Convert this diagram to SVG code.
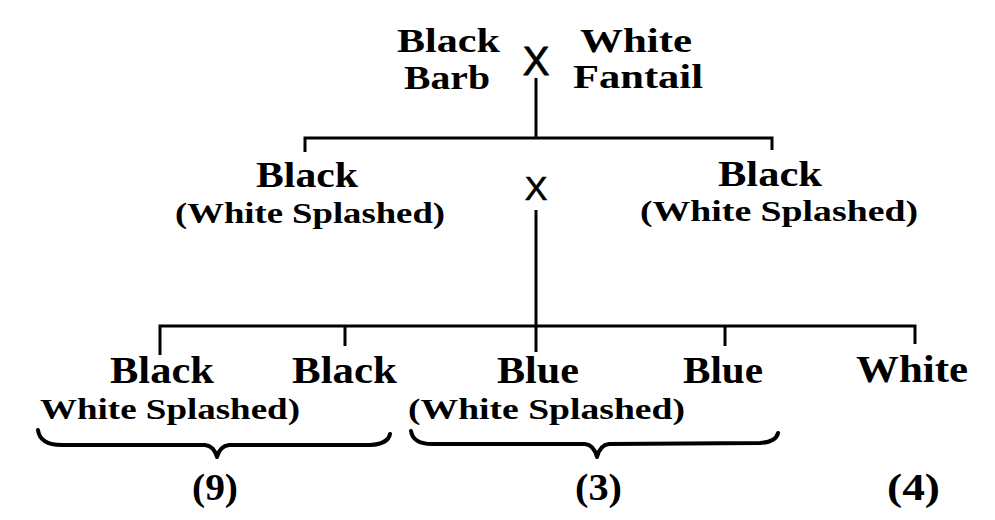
<svg xmlns="http://www.w3.org/2000/svg" width="995" height="520" viewBox="0 0 995 520">
<style>
.t{font-family:"Liberation Serif","DejaVu Serif",serif;font-weight:bold;fill:#000}
.x{font-family:"Liberation Sans",Arial,sans-serif;fill:#000}
.n{font-family:"Liberation Serif","DejaVu Serif",serif;font-weight:bold;fill:#000}
.l{stroke:#000;stroke-width:3;fill:none}
.b{stroke:#000;stroke-width:4;fill:none;stroke-linecap:round;stroke-linejoin:round}
</style>
<rect width="995" height="520" fill="#fff"/>
<g id="connectors">
<path class="l" d="M536,78 V138 M305,152 V138 H772 V150"/>
<path class="l" d="M536,210 V352"/>
<path class="l" d="M160,355 V326 H915 V344 M345,326 V346 M725,326 V346"/>
<path class="b" d="M38,430 Q40,445 62,445 L205,445 Q214,446 217,457 Q220,446 229,445 L370,445 Q388,444 390,434"/>
<path class="b" d="M411,431 Q413,444 432,444 L585,444 Q594,445 597,457 Q600,445 609,444 L760,443 Q776,442 778,433"/>
</g>
<g id="p1">
<text class="t" x="397" y="52" font-size="33" textLength="103" lengthAdjust="spacingAndGlyphs">Black</text>
<text class="t" x="404" y="89" font-size="33" textLength="86" lengthAdjust="spacingAndGlyphs">Barb</text>
</g>
<text id="cross1" class="x" x="536" y="75" font-size="40" text-anchor="middle" stroke="#000" stroke-width="0.8">X</text>
<g id="p2">
<text class="t" x="580" y="52" font-size="33" textLength="112" lengthAdjust="spacingAndGlyphs">White</text>
<text class="t" x="573" y="88" font-size="33" textLength="130" lengthAdjust="spacingAndGlyphs">Fantail</text>
</g>
<g id="f1a">
<text class="t" x="256" y="187" font-size="35" textLength="102" lengthAdjust="spacingAndGlyphs">Black</text>
<text class="t" x="175" y="223" font-size="29" textLength="270" lengthAdjust="spacingAndGlyphs">(White Splashed)</text>
</g>
<text id="cross2" class="x" x="536" y="200" font-size="34" text-anchor="middle" stroke="#000" stroke-width="0.6">X</text>
<g id="f1b">
<text class="t" x="718" y="186" font-size="35" textLength="104" lengthAdjust="spacingAndGlyphs">Black</text>
<text class="t" x="640" y="221" font-size="29" textLength="278" lengthAdjust="spacingAndGlyphs">(White Splashed)</text>
</g>
<g id="black1"><text class="t" x="110" y="383" font-size="37" textLength="104" lengthAdjust="spacingAndGlyphs">Black</text></g>
<g id="black2"><text class="t" x="292" y="383" font-size="37" textLength="105" lengthAdjust="spacingAndGlyphs">Black</text></g>
<g id="blue1"><text class="t" x="497" y="383" font-size="37" textLength="82" lengthAdjust="spacingAndGlyphs">Blue</text></g>
<g id="blue2"><text class="t" x="683" y="383" font-size="37" textLength="80" lengthAdjust="spacingAndGlyphs">Blue</text></g>
<g id="white"><text class="t" x="856" y="382" font-size="37" textLength="112" lengthAdjust="spacingAndGlyphs">White</text></g>
<g id="ws1"><text class="t" x="40" y="419" font-size="29" textLength="260" lengthAdjust="spacingAndGlyphs">White Splashed)</text></g>
<g id="ws2"><text class="t" x="408" y="419" font-size="29" textLength="277" lengthAdjust="spacingAndGlyphs">(White Splashed)</text></g>
<g id="c9"><text class="n" x="192" y="500" font-size="38" textLength="46" lengthAdjust="spacingAndGlyphs">(9)</text></g>
<g id="c3"><text class="n" x="575" y="500" font-size="38" textLength="47" lengthAdjust="spacingAndGlyphs">(3)</text></g>
<g id="c4"><text class="n" x="887" y="500" font-size="38" textLength="53" lengthAdjust="spacingAndGlyphs">(4)</text></g>
</svg>
